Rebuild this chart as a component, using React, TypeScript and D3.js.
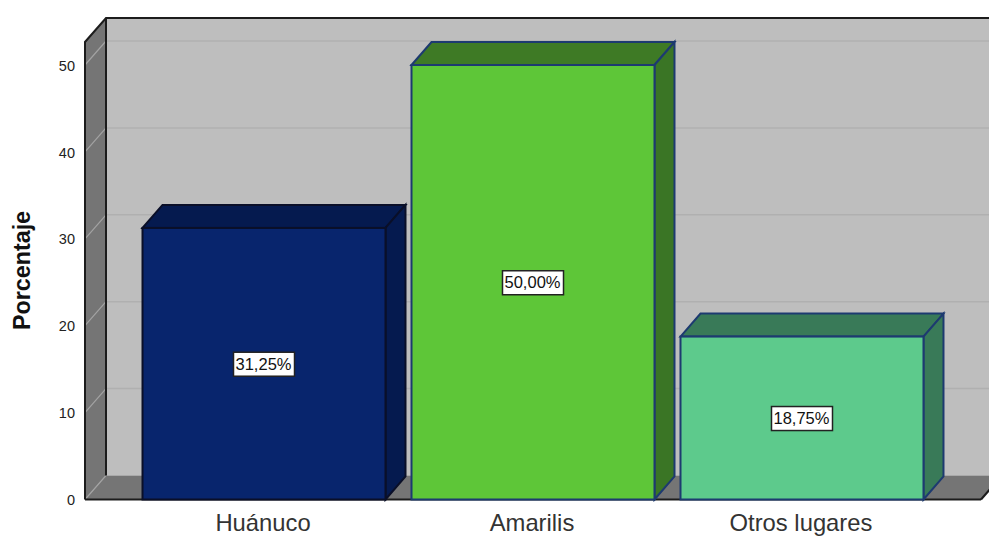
import React, { useRef, useEffect } from "react";
import { select, axisLeft, axisBottom, scaleLinear, scaleBand } from "d3";

const categories = ["Huánuco", "Amarilis", "Otros lugares"];
const percentages = [31.25, 50.0, 18.75];
const valueLabels = ["31,25%", "50,00%", "18,75%"];
const faceColors = ["#08256d", "#5ec638", "#5dca8c"];
const topColors = ["#051a4f", "#3e7a25", "#397a58"];
const sideColors = ["#051a4f", "#3a7525", "#397a58"];
const yTicks = [0, 10, 20, 30, 40, 50];

const DX = 21;
const DY = -24;
const BAR_DX = 20;
const BAR_DY = -23;

function App() {
  const svgRef = useRef<SVGSVGElement>(null);

  useEffect(() => {
    const svg = select(svgRef.current);
    svg.selectAll("*").remove();

    const yScale = scaleLinear().domain([0, 50]).range([499.5, 65]);
    const xScale = scaleBand()
      .domain(categories)
      .range([85, 981])
      .paddingInner(0.0967)
      .paddingOuter(0.2138);

    const left = 85;
    const right = 981;
    const bottom = yScale(0);
    const top = 42;

    // back wall, side wall and floor
    svg.append("rect")
      .attr("x", left + DX).attr("y", top + DY)
      .attr("width", right - left).attr("height", bottom - top)
      .attr("fill", "#bebebe");
    svg.append("polygon")
      .attr("points", `${left},${top} ${left + DX},${top + DY} ${left + DX},${bottom + DY} ${left},${bottom}`)
      .attr("fill", "#757575");
    svg.append("polygon")
      .attr("points", `${left},${bottom} ${left + DX},${bottom + DY} ${right + DX},${bottom + DY} ${right},${bottom}`)
      .attr("fill", "#757575");

    // grid lines across side wall and back wall
    const grid = svg.append("g");
    yTicks.forEach((t) => {
      grid.append("line")
        .attr("x1", left).attr("y1", yScale(t))
        .attr("x2", left + DX).attr("y2", yScale(t) + DY)
        .attr("stroke", "#a3a3a3").attr("stroke-width", 1.2);
      if (t > 0) {
        grid.append("line")
          .attr("x1", left + DX).attr("y1", yScale(t) + DY)
          .attr("x2", right + DX).attr("y2", yScale(t) + DY)
          .attr("stroke", "#b0b0b0").attr("stroke-width", 1.5);
      }
    });

    // frame
    const frame = "#1c1c1c";
    svg.append("path")
      .attr("d", `M${left},${bottom} L${left},${top} L${left + DX},${top + DY} L${right + DX},${top + DY}`)
      .attr("fill", "none").attr("stroke", frame).attr("stroke-width", 2);
    svg.append("line")
      .attr("x1", left + DX).attr("y1", top + DY)
      .attr("x2", left + DX).attr("y2", bottom + DY)
      .attr("stroke", frame).attr("stroke-width", 2);
    svg.append("line")
      .attr("x1", left).attr("y1", bottom)
      .attr("x2", right).attr("y2", bottom)
      .attr("stroke", frame).attr("stroke-width", 2);
    svg.append("line")
      .attr("x1", right).attr("y1", bottom)
      .attr("x2", right + DX).attr("y2", bottom + DY)
      .attr("stroke", frame).attr("stroke-width", 2);

    // bars
    const bars = svg.selectAll(".bar")
      .data(categories)
      .join("g")
      .attr("class", "bar");
    const w = xScale.bandwidth();
    const stroke = "#1d3a70";

    bars.append("polygon")
      .attr("points", (d, i) => {
        const x = xScale(d);
        const y = yScale(percentages[i]);
        return `${x},${y} ${x + BAR_DX},${y + BAR_DY} ${x + w + BAR_DX},${y + BAR_DY} ${x + w},${y}`;
      })
      .attr("fill", (d, i) => topColors[i])
      .attr("stroke", (d, i) => (i === 0 ? "#0a0f28" : stroke)).attr("stroke-width", 2);
    bars.append("polygon")
      .attr("points", (d, i) => {
        const x = xScale(d) + w;
        const y = yScale(percentages[i]);
        return `${x},${y} ${x + BAR_DX},${y + BAR_DY} ${x + BAR_DX},${bottom + BAR_DY} ${x},${bottom}`;
      })
      .attr("fill", (d, i) => sideColors[i])
      .attr("stroke", (d, i) => (i === 0 ? "#0a0f28" : stroke)).attr("stroke-width", 2);
    bars.append("rect")
      .attr("x", (d) => xScale(d))
      .attr("y", (d, i) => yScale(percentages[i]))
      .attr("width", w)
      .attr("height", (d, i) => bottom - yScale(percentages[i]))
      .attr("fill", (d, i) => faceColors[i])
      .attr("stroke", (d, i) => (i === 0 ? "#0a0f28" : stroke)).attr("stroke-width", 2);

    // value labels
    const font = "'Liberation Sans', Arial, sans-serif";
    bars.append("rect")
      .attr("x", (d) => xScale(d) + w / 2 - 30.5)
      .attr("y", (d, i) => yScale(percentages[i] / 2) - 11.5)
      .attr("width", 61)
      .attr("height", 24)
      .attr("fill", "#fff")
      .attr("stroke", "#222").attr("stroke-width", 1.5);
    bars.append("text")
      .attr("x", (d) => xScale(d) + w / 2 - 0.5)
      .attr("y", (d, i) => yScale(percentages[i] / 2) + 6)
      .attr("text-anchor", "middle")
      .attr("font-family", font)
      .attr("font-size", 16.5)
      .attr("fill", "#111")
      .text((d, i) => valueLabels[i]);

    // axes
    const yAxis = axisLeft(yScale).tickValues(yTicks).tickSize(0).tickPadding(10);
    const yG = svg.append("g").attr("transform", `translate(${left},0.5)`).call(yAxis);
    yG.select(".domain").remove();
    yG.selectAll("text")
      .attr("font-family", font).attr("font-size", 14.5).attr("fill", "#222");

    const xAxis = axisBottom(xScale).tickSize(0).tickPadding(15);
    const xG = svg.append("g").attr("transform", `translate(-1,${bottom})`).call(xAxis);
    xG.select(".domain").remove();
    xG.selectAll("text")
      .attr("font-family", font).attr("font-size", 23.8).attr("fill", "#333");

    svg.append("text")
      .attr("transform", "translate(30,270.5) rotate(-90)")
      .attr("text-anchor", "middle")
      .attr("font-family", font)
      .attr("font-size", 23.3)
      .attr("font-weight", "bold")
      .attr("fill", "#111")
      .text("Porcentaje");
  }, []);

  return (
    <svg
      ref={svgRef}
      width={989}
      height={536}
      style={{ position: "absolute", left: 0, top: 0, background: "#fff" }}
    />
  );
}

export default App;
